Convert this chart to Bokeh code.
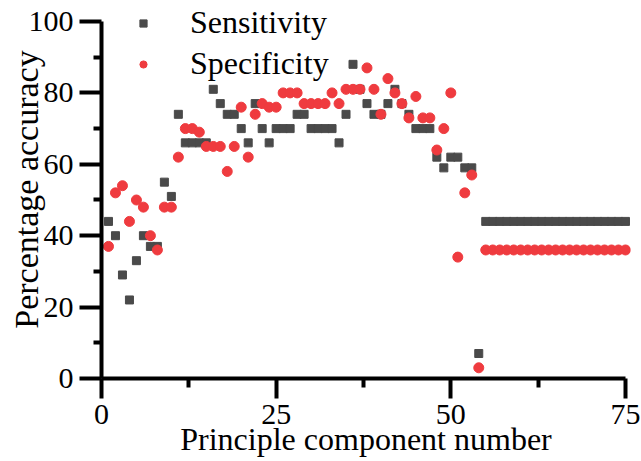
from bokeh.plotting import figure
from bokeh.models import Range1d, FixedTicker, Legend, LegendItem
from bokeh.embed import file_html
from bokeh.resources import INLINE

# ---- data ----
components = list(range(1, 76))
sensitivity = [44, 40, 29, 22, 33, 40, 37, 37, 55, 51,
               74, 66, 66, 66, 66, 81, 77, 74, 74, 70,
               66, 77, 70, 66, 70, 70, 70, 74, 74, 70,
               70, 70, 70, 66, 74, 88, 81, 77, 74, 74,
               77, 81, 77, 74, 70, 70, 70, 62, 59, 62,
               62, 59, 59, 7] + [44] * 21
specificity = [37, 52, 54, 44, 50, 48, 40, 36, 48, 48,
               62, 70, 70, 69, 65, 65, 65, 58, 65, 76,
               62, 74, 77, 76, 76, 80, 80, 80, 77, 77,
               77, 77, 80, 77, 81, 81, 81, 87, 81, 74,
               84, 80, 77, 73, 79, 73, 73, 64, 70, 80,
               34, 52, 57, 3] + [36] * 21
x_ticks = [0, 25, 50, 75]
x_minor = [12.5, 37.5, 62.5]
y_ticks = [0, 20, 40, 60, 80, 100]
y_minor = [10, 30, 50, 70, 90]

FONT = "Liberation Serif"
GREY = "#4a4a4a"
RED = "#ef3b3f"

p = figure(width=641, height=461, output_backend="svg", toolbar_location=None,
           x_range=Range1d(0, 75.72), y_range=Range1d(0, 105.88),
           min_border_left=101, min_border_right=11, min_border_top=0, min_border_bottom=83)
p.outline_line_color = None
p.xgrid.visible = False
p.ygrid.visible = False
p.background_fill_color = "white"
p.border_fill_color = "white"

sq = p.scatter(components, sensitivity, marker="square", size=8, color=GREY)
ci = p.scatter(components, specificity, marker="circle", size=10, color=RED)

for ax in (p.xaxis[0], p.yaxis[0]):
    ax.axis_line_width = 4
    ax.axis_line_color = "black"
    ax.major_tick_line_width = 4
    ax.minor_tick_line_width = 4
    ax.major_tick_line_color = "black"
    ax.minor_tick_line_color = "black"
    ax.major_tick_in = 0
    ax.minor_tick_in = 0
    ax.major_label_text_font = FONT
    ax.major_label_text_font_size = "30px"
    ax.major_label_text_color = "black"
    ax.axis_label_text_font = FONT
    ax.axis_label_text_font_size = "32px"
    ax.axis_label_text_font_style = "normal"
    ax.axis_label_text_color = "black"

xa = p.xaxis[0]
xa.ticker = FixedTicker(ticks=x_ticks, minor_ticks=x_minor)
xa.bounds = (0, 75)
xa.major_tick_out = 20
xa.minor_tick_out = 9
xa.major_label_standoff = 6
xa.axis_label = "Principle component number"
xa.axis_label_standoff = -6

ya = p.yaxis[0]
ya.ticker = FixedTicker(ticks=y_ticks, minor_ticks=y_minor)
ya.bounds = (0, 100)
ya.major_tick_out = 22
ya.minor_tick_out = 8
ya.major_label_standoff = 6
ya.axis_label = "Percentage accuracy"
ya.axis_label_text_font_size = "34px"
ya.axis_label_standoff = -19

legend = Legend(items=[LegendItem(label="Sensitivity", renderers=[sq]),
                       LegendItem(label="Specificity", renderers=[ci])],
                location=(33, 296), padding=0, margin=0, spacing=4,
                glyph_width=18, glyph_height=18, label_height=37,
                label_standoff=38,
                label_text_font=FONT, label_text_font_size="32px",
                label_text_color="black",
                background_fill_alpha=0, border_line_alpha=0)
p.add_layout(legend, "center")

open("out.html", "w").write(file_html(p, INLINE))
